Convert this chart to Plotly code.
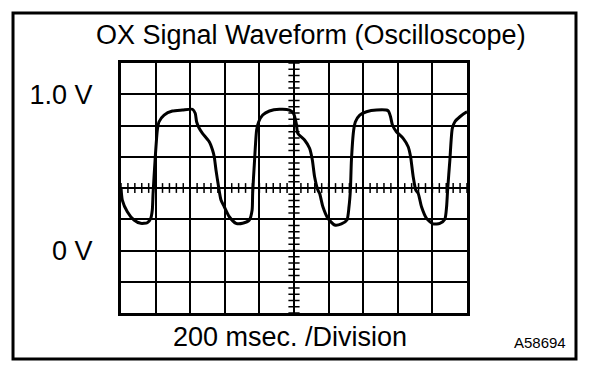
import numpy as np
import plotly.graph_objects as go

# Time (ms) and voltage (V)
time_ms = [0, 7.5, 36.5, 75, 114, 152, 172, 181, 185.5, 197, 210, 220, 249, 297, 355, 413,
           429, 437, 452, 471, 510, 529, 539, 549, 564, 578, 597, 626, 665, 703, 742, 758,
           761, 771, 784, 796, 819, 858, 916, 974, 997, 1013, 1022, 1061, 1090, 1106, 1119,
           1138, 1148, 1167, 1196, 1235, 1274, 1306, 1318, 1326, 1332, 1345, 1355, 1380,
           1419, 1477, 1544, 1558, 1569, 1592, 1631, 1660, 1674, 1689, 1704, 1718, 1737,
           1766, 1805, 1843, 1872, 1882, 1888, 1901, 1915, 1930, 1959, 1994, 2000]
volts = [0.406, 0.323, 0.248, 0.195, 0.174, 0.178, 0.206, 0.259, 0.368, 0.579, 0.771, 0.824,
         0.867, 0.893, 0.899, 0.904, 0.878, 0.824, 0.782, 0.750, 0.696, 0.643, 0.600, 0.515,
         0.408, 0.323, 0.280, 0.216, 0.174, 0.174, 0.195, 0.259, 0.366, 0.558, 0.771, 0.824,
         0.867, 0.893, 0.904, 0.899, 0.878, 0.814, 0.750, 0.707, 0.654, 0.579, 0.472, 0.387,
         0.366, 0.280, 0.206, 0.163, 0.170, 0.195, 0.280, 0.387, 0.579, 0.771, 0.824, 0.867,
         0.888, 0.899, 0.895, 0.856, 0.803, 0.760, 0.718, 0.664, 0.600, 0.472, 0.387, 0.366,
         0.280, 0.206, 0.170, 0.174, 0.200, 0.280, 0.387, 0.579, 0.782, 0.824, 0.856, 0.884,
         0.886]

x_tick_vals = [0, 200, 400, 600, 800, 1000, 1200, 1400, 1600, 1800, 2000]
y_tick_vals = [-0.4, -0.2, 0.0, 0.2, 0.4, 0.6, 0.8, 1.0, 1.2]
y_tick_text = ["", "", "0 V", "", "", "", "", "1.0 V", ""]

title_text = "OX Signal Waveform (Oscilloscope)"
x_caption = "200 msec. /Division"
figure_id = "A58694"

FONT = "Liberation Sans, Arial, Helvetica, sans-serif"

fig = go.Figure()

# minor graticule ticks on the centre lines
minor_x = np.arange(0, 2000.1, 40)
minor_y = np.arange(-0.4, 1.2001, 0.04)
fig.add_trace(go.Scatter(x=minor_x, y=[0.4] * len(minor_x), mode="markers",
                         marker=dict(symbol="line-ns", size=7, line=dict(color="black", width=1.5)),
                         hoverinfo="skip", showlegend=False))
fig.add_trace(go.Scatter(x=[1000] * len(minor_y), y=minor_y, mode="markers",
                         marker=dict(symbol="line-ew", size=8, line=dict(color="black", width=1.5)),
                         hoverinfo="skip", showlegend=False))

fig.add_trace(go.Scatter(x=time_ms, y=volts, mode="lines",
                         line=dict(color="black", width=3, shape="spline", smoothing=0.6),
                         hoverinfo="skip", showlegend=False))

fig.update_xaxes(range=[0, 2000], tickvals=x_tick_vals, showticklabels=False,
                 showgrid=True, gridcolor="black", gridwidth=1.8, zeroline=False,
                 showline=True, linecolor="black", linewidth=3, mirror=True, ticks="")
fig.update_yaxes(range=[-0.4, 1.2], tickvals=y_tick_vals, ticktext=y_tick_text,
                 showgrid=True, gridcolor="black", gridwidth=1.8, zeroline=False,
                 showline=True, linecolor="black", linewidth=3, mirror=True, ticks="",
                 ticklabelstandoff=20, tickfont=dict(family=FONT, size=27, color="black"))

fig.add_shape(type="rect", xref="paper", yref="paper", x0=-0.3121, x1=1.315, y0=-0.184, y1=1.2,
              line=dict(color="black", width=3), fillcolor="rgba(0,0,0,0)", layer="below")

fig.add_annotation(text=title_text, xref="paper", yref="paper", x=0.5477, y=1.112,
                   xanchor="center", yanchor="middle", showarrow=False,
                   font=dict(family=FONT, size=27, color="black"))
fig.add_annotation(text=x_caption, xref="paper", yref="paper", x=0.4884, y=-0.096,
                   xanchor="center", yanchor="middle", showarrow=False,
                   font=dict(family=FONT, size=27, color="black"))
fig.add_annotation(text=figure_id, xref="paper", yref="paper", x=1.211, y=-0.116,
                   xanchor="center", yanchor="middle", showarrow=False,
                   font=dict(family=FONT, size=15, color="black"))

fig.update_layout(width=608, height=378, margin=dict(l=121, r=141, t=63, b=65),
                  paper_bgcolor="white", plot_bgcolor="white", hovermode=False,
                  font=dict(family=FONT, color="black"))

fig.write_html("out.html", config={"displayModeBar": False},
               post_script="document.body.style.margin='0px';document.body.style.overflow='hidden';")
